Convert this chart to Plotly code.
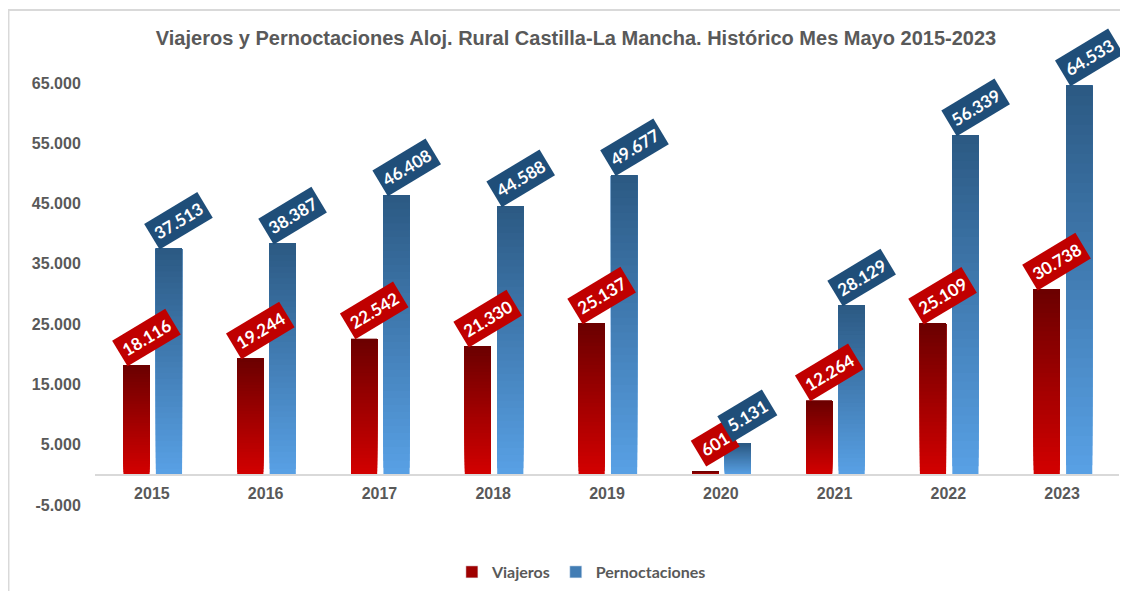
"""Viajeros y pernoctaciones en alojamiento rural, Castilla-La Mancha, mayo 2015-2023."""

import plotly.graph_objects as go

years = ["2015", "2016", "2017", "2018", "2019", "2020", "2021", "2022", "2023"]
viajeros = [18116, 19244, 22542, 21330, 25137, 601, 12264, 25109, 30738]
pernoctaciones = [37513, 38387, 46408, 44588, 49677, 5131, 28129, 56339, 64533]
y_ticks = [-5000, 5000, 15000, 25000, 35000, 45000, 55000, 65000]

GREY = "#595959"
N_STEPS = 40  # slices used to fake the vertical gradient fill


def _mix(c1, c2, t):
    a = [int(c1[i:i + 2], 16) for i in (1, 3, 5)]
    b = [int(c2[i:i + 2], 16) for i in (1, 3, 5)]
    return "#" + "".join(f"{round(x + (y - x) * t):02x}" for x, y in zip(a, b))


def fmt(v):
    return f"{v:,}".replace(",", ".")


series = [
    # name, values, bottom colour, top colour, label colour, offset
    ("Viajeros", viajeros, "#d20000", "#6c0000", "#c00000", -0.25),
    ("Pernoctaciones", pernoctaciones, "#58a0e4", "#2c5a84", "#1f4e79", 0.035),
]
BAR_W = 0.23

fig = go.Figure()

for name, vals, c_bot, c_top, c_lab, off in series:
    # each slice runs from its start up to the bar top; later slices cover the
    # upper part, so there are no seams between them
    for k in range(N_STEPS):
        t = k / (N_STEPS - 1)
        fig.add_trace(go.Bar(
            x=years,
            y=[v * (1 - k / N_STEPS) for v in vals],
            base=[v * k / N_STEPS for v in vals],
            offset=off,
            width=BAR_W,
            marker=dict(color=_mix(c_bot, c_top, t), line=dict(width=0)),
            showlegend=False,
            hoverinfo="skip",
        ))
    # legend entry
    fig.add_trace(go.Bar(
        x=[years[0]], y=[0], name=name,
        marker=dict(color=_mix(c_bot, c_top, 0.5)),
        showlegend=True, hoverinfo="skip",
    ))
    # category axes take the serial index for annotations
    for i, v in enumerate(vals):
        fig.add_annotation(
            x=i + off + BAR_W / 2, y=v, text=f"<b>{fmt(v)}</b>",
            xshift=10, yshift=28,
            showarrow=False, textangle=-31,
            bgcolor=c_lab, borderpad=4,
            font=dict(family="Lato, Open Sans, sans-serif", size=17, color="white"),
        )

# chart border (Excel chart area)
fig.add_shape(type="rect", xref="paper", yref="paper",
              x0=-0.0845, x1=1.05, y0=-0.3, y1=1.173,
              line=dict(color="#d9d9d9", width=2), fillcolor="rgba(0,0,0,0)", layer="below")

# the page body sits 8px in, so the figure is 8px smaller than the window
fig.update_layout(
    width=1120, height=583,
    title=dict(
        text="<b>Viajeros y Pernoctaciones Aloj. Rural Castilla-La Mancha. Histórico Mes Mayo 2015-2023</b>",
        x=568 / 1120, xanchor="center", y=1 - 30 / 583, yanchor="middle",
        font=dict(family="Liberation Sans, Arial, sans-serif", size=20, color=GREY),
    ),
    barmode="overlay",
    plot_bgcolor="white", paper_bgcolor="white",
    margin=dict(l=87, r=9, t=75, b=86, autoexpand=False),
    xaxis=dict(
        type="category", categoryorder="array", categoryarray=years,
        range=[-0.5, len(years) - 0.5], automargin=False,
        anchor="free", position=5000 / 70000,
        showline=True, linecolor="#d9d9d9", linewidth=2,
        ticks="outside", ticklen=4, tickcolor="rgba(0,0,0,0)",
        showgrid=False, fixedrange=True,
        tickfont=dict(family="Liberation Sans, Arial, sans-serif", size=16, color=GREY, weight="bold"),
    ),
    yaxis=dict(
        range=[-5000, 65000], tickvals=y_ticks, ticktext=[fmt(v) for v in y_ticks],
        showgrid=False, zeroline=False, showline=False, automargin=False,
        ticks="outside", ticklen=10, tickcolor="rgba(0,0,0,0)", fixedrange=True,
        tickfont=dict(family="Liberation Sans, Arial, sans-serif", size=16, color=GREY, weight="bold"),
    ),
    legend=dict(
        orientation="h", x=0.475, xanchor="center",
        yref="container", y=1 - 564 / 583, yanchor="middle",
        font=dict(family="Lato, Open Sans, sans-serif", size=16, color=GREY, weight="bold"),
        itemwidth=30, traceorder="normal",
    ),
)

fig.write_html("out.html", config={"displayModeBar": False})
